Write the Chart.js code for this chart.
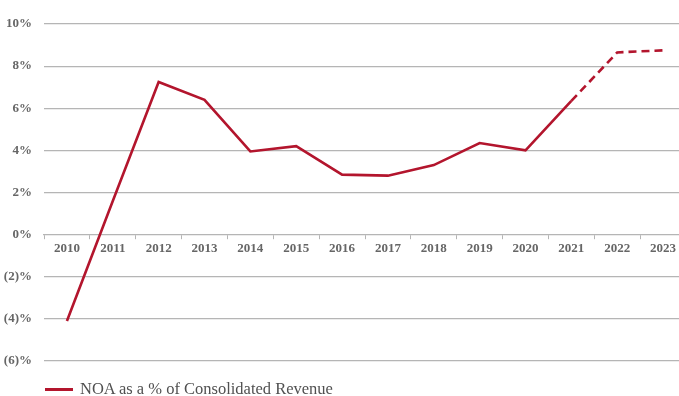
<!DOCTYPE html>
<html>
<head>
<meta charset="utf-8">
<script src="https://cdn.jsdelivr.net/npm/chart.js@4.4.1/dist/chart.umd.min.js"></script>
<style>
  html, body { margin: 0; padding: 0; background: #fff; overflow: hidden; }
  #wrap { position: relative; width: 686px; height: 396px; }
  #legend { position: absolute; left: 45px; top: 379px; display: flex; align-items: center;
            font-family: "Liberation Serif", serif; font-size: 16.5px; color: #505050; white-space: nowrap; }
  #legend .swatch { width: 28px; height: 3px; background: #b3152d; margin-right: 7px; }
</style>
</head>
<body>
<div id="wrap">
  <canvas id="c" width="686" height="396"></canvas>
  <div id="legend"><span class="swatch"></span><span>NOA as a % of Consolidated Revenue</span></div>
</div>
<script>
// Fiscal years on the category axis
const years = ['2010','2011','2012','2013','2014','2015','2016','2017','2018','2019','2020','2021','2022','2023'];
// Net operating assets as a percentage of consolidated revenue
const noaPct = [-4.1, 1.6, 7.25, 6.4, 3.95, 4.2, 2.85, 2.8, 3.3, 4.35, 4.0, 6.35, 8.65, 8.75];
// Index from which the series is a projection (drawn dashed)
const projectedFrom = 11;
// Value-axis tick values
const yTicks = [-6, -4, -2, 0, 2, 4, 6, 8, 10];

const red = '#b3152d';
const grey = '#666666';
const tickFont = { family: '"Liberation Serif", serif', size: 13, weight: 'bold' };

new Chart(document.getElementById('c'), {
  type: 'line',
  data: {
    labels: years,
    datasets: [{
      label: 'NOA as a % of Consolidated Revenue',
      data: noaPct,
      borderColor: red,
      borderWidth: 2.6,
      pointRadius: 0,
      tension: 0,
      segment: {
        borderDash: ctx => ctx.p0DataIndex >= projectedFrom ? [8, 5] : undefined
      }
    }]
  },
  options: {
    responsive: false,
    animation: false,
    layout: { padding: { left: 0, right: 0, top: 24, bottom: 35 } },
    plugins: { legend: { display: false }, tooltip: { enabled: false } },
    scales: {
      x: {
        type: 'category',
        position: { y: 0 },
        offset: true,
        grid: { display: true, drawOnChartArea: false, drawTicks: true, tickLength: 4, color: '#b5b5b5', offset: true },
        border: { display: true, color: '#b5b5b5', width: 1.2 },
        ticks: { color: grey, font: tickFont, padding: 2, maxRotation: 0, autoSkip: false }
      },
      y: {
        min: -6,
        max: 10,
        afterBuildTicks: axis => { axis.ticks = yTicks.map(v => ({ value: v })); },
        afterFit: axis => { axis.width = 44; },
        grid: {
          color: ctx => ctx.tick && ctx.tick.value === 0 ? 'rgba(0,0,0,0)' : '#b5b5b5',
          lineWidth: 1.2,
          drawTicks: false
        },
        border: { display: false },
        ticks: {
          color: grey,
          font: tickFont,
          padding: 12,
          callback: v => v < 0 ? '(' + (-v) + ')%' : v + '%'
        }
      }
    }
  }
});
</script>
</body>
</html>
